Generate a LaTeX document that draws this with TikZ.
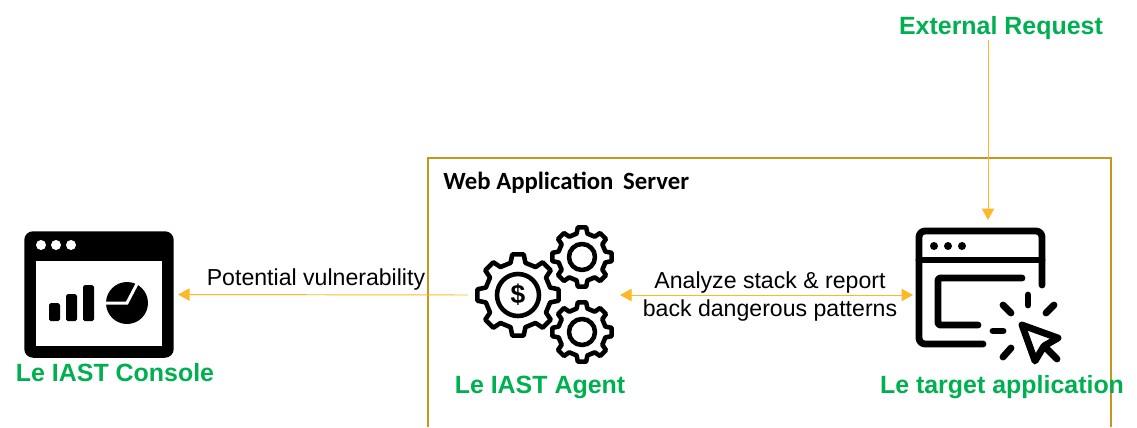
\documentclass[tikz,border=0pt]{standalone}
\usepackage{fontspec}
\setmainfont{Liberation Sans}
\newfontfamily\serverfont{Carlito}
\usetikzlibrary{arrows.meta}

\definecolor{titlegreen}{RGB}{0,176,80}
\definecolor{arrowgold}{RGB}{253,184,39}
\definecolor{boxgold}{RGB}{200,149,31}

\tikzset{
	title/.style={font=\bfseries\fontsize{14.2}{16}\selectfont, text=titlegreen, inner sep=0pt},
	edgelabel/.style={font=\fontsize{13.15}{15.8}\selectfont, align=center, inner sep=0pt},
	flow/.style={draw=arrowgold, line width=0.55pt, -{Triangle[length=6.5pt,width=7pt]}},
	iconbox/.style={inner sep=0pt, minimum width=#1},
	gearline/.style={draw=black, line width=2.6pt, line join=round, fill=white},
	iconline/.style={draw=black, line width=3.9pt, line cap=round, line join=round}
}

\newcommand{\gearicon}[4]{
	\draw[gearline, shift={(#1,#2)}] (-13:#4)
		\foreach \a in {0,45,...,315} {
			-- (\a-13:#4) -- (\a-8:#3) -- (\a+8:#3) -- (\a+13:#4)
		} -- cycle;
}

\begin{document}
\begin{tikzpicture}[x=0.02cm, y=-0.02cm]
\useasboundingbox (0, 0) rectangle (1137, 427);

% server box, open at the bottom
\draw[boxgold, line width=1.1pt] (428, 427) -- (428, 158) -- (1111, 158) -- (1111, 427);
\node[anchor=west, inner sep=0pt, font=\serverfont\bfseries\fontsize{14.1}{16}\selectfont] (server) at (443, 183) {Web Application\, Server};

% console icon
\node[iconbox=85.05pt, minimum height=72pt, fill=black, rounded corners=5pt] (console) at (99, 294.5) {};
\fill[white] (36, 261) rectangle (162, 346);
\foreach \x in {41, 56, 71}
\fill[white] (\x, 245) circle (5);
\foreach \x/\top in {
	49/303,
	66/294,
	83/285}
\fill[black, rounded corners=1pt] (\x, \top) rectangle (\x+11, 321);
\fill[black] (127, 303) circle (21);
\draw[white, line width=1.7pt] (105, 303) -- (127, 303) -- (139, 280);
\node[title] (consolename) at (115, 373) {Le IAST Console};

% agent icon
\node[iconbox=86.2pt, minimum height=60pt] (agent) at (544, 295) {};
\gearicon{518}{295}{41}{33}
\draw[gearline] (518, 295) circle (21);
\node[inner sep=0pt, font=\bfseries\fontsize{15}{15}\selectfont] (dollar) at (518, 295) {\$};
\gearicon{582}{257}{30}{24}
\draw[gearline] (582, 257) circle (13);
\gearicon{582}{332}{30}{24}
\draw[gearline] (582, 332) circle (13);
\node[title] (agentname) at (540, 387) {Le IAST Agent};

% target icon
\node[iconbox=85pt, minimum height=85pt] (target) at (988, 295) {};
\draw[iconline, rounded corners=3.5pt] (983, 344) -- (919, 344) -- (919, 231) -- (1042, 231) -- (1042, 285);
\draw[iconline] (919, 260) -- (1042, 260);
\foreach \x in {934, 948, 962}
\fill[black] (\x, 246) circle (4);
\draw[iconline, rounded corners=1pt] (1022, 278) -- (938, 278) -- (938, 325) -- (978, 325);
\foreach \xa/\ya/\xb/\yb in {
	993/331/1003/331,
	1028/295/1028/305,
	1003/305/1011/313,
	1054/305/1046/313,
	1011/348/1003/357}
\draw[iconline] (\xa, \ya) -- (\xb, \yb);
\draw[iconline] (1022, 325) -- (1058, 338) -- (1044, 346) -- (1057, 359) -- (1044, 346) -- (1035, 361) -- cycle;
\node[title] (targetname) at (1002, 387) {Le target application};

\node[title] (external) at (1001, 28) {External Request};

% connectors
\draw[flow] (external.south -| target.north) -- (target.north);
\draw[flow, shorten >=2.3pt] (agent.west) -- (console.east);
\draw[flow, {Triangle[length=6.5pt,width=7pt]}-{Triangle[length=6.5pt,width=7pt]}] (agent.east) -- (target.west);

\node[edgelabel] (vuln) at (316, 280) {Potential vulnerability};
\node[edgelabel] (analyze) at (770, 296.5) {Analyze stack \& report\\back dangerous patterns};

\end{tikzpicture}
\end{document}
